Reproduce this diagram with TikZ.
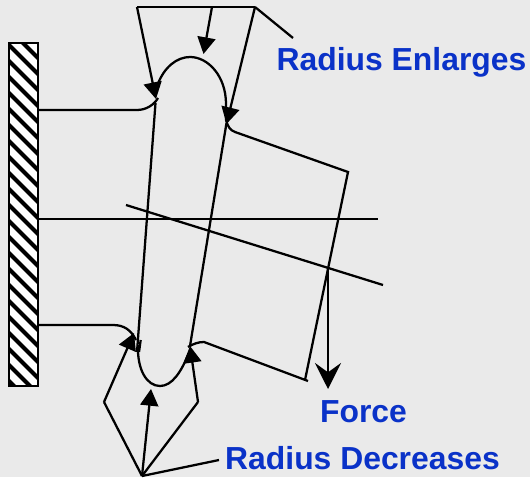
\documentclass[tikz,border=0pt]{standalone}
\usepackage{fontspec}
\setmainfont{Liberation Sans}
\usetikzlibrary{arrows.meta}
\definecolor{bgc}{RGB}{234,234,234}
\definecolor{lab}{RGB}{10,50,200}
\tikzset{
  ln/.style={line width=1.7pt,black},
  arr/.style={ln,-{Triangle[length=12.5pt,width=13.5pt]}},
  bigarr/.style={ln,-{Stealth[length=19.5pt,width=19.5pt,inset=7pt]}},
  lbl/.style={font=\bfseries\fontsize{23.9}{26}\selectfont,text=lab,inner sep=0pt,anchor=center}
}
\begin{document}
\begin{tikzpicture}[x=0.75pt,y=-0.75pt]
\useasboundingbox (0,0) rectangle (530,477);
\fill[bgc] (0,0) rectangle (530,477);
% wall
\fill[white] (9,43) rectangle (38,386);
\begin{scope}
\clip (9,43) rectangle (38,386);
\foreach \k in {-21,...,4}{
  \draw[line width=3pt] (-1,{333+16*\k-10}) -- (49,{333+16*\k+40});
}
\end{scope}
\draw[line width=2pt] (9,43) rectangle (38,386);
% coordinates
\coordinate (tl) at (137,7);
\coordinate (tm) at (212,7);
\coordinate (tr) at (255,7);
\coordinate (tltip) at (156,99);
\coordinate (tmtip) at (203.5,54);
\coordinate (trtip) at (226.5,124);
\coordinate (apex) at (142,476);
\coordinate (bl) at (104,402);
\coordinate (br) at (198,402);
\coordinate (bltip) at (134,333);
\coordinate (bmtip) at (151,389);
\coordinate (brtip) at (190,346);
\coordinate (fa) at (328,267);
\coordinate (fb) at (328,389);
\coordinate (p1) at (348,172);
\coordinate (p2) at (305,380);
\node[lbl] (enl) at (401.5,62.5) {Radius Enlarges};
\node[lbl] (dec) at (362.5,458) {Radius Decreases};
\node[lbl] (force) at (363.5,412) {Force};
% top bracket
\draw[ln] (tl) -- (tr);
\draw[arr] (tl) -- (tltip);
\draw[arr] (tm) -- (tmtip);
\draw[arr] (tr) -- (trtip);
\draw[ln] (tr) -- (293,38);
% body
\draw[ln] (155.5,103) -- (137,352);
\draw[ln] (226.5,123) -- (190,346);
\draw[ln] (157.5,85) .. controls (164,67) and (177,57) .. (190,57)
  .. controls (208,57) and (226,76) .. (226,104) -- (226,120);
\draw[ln] (138,345) .. controls (137,370) and (147,386) .. (160,386)
  .. controls (172,386) and (181,372) .. (188,355);
\draw[ln] (140.7,340) -- (139,352);
% arm ends
\draw[ln] (38,110) -- (137,110) .. controls (146,110) and (154,105) .. (158,98);
\draw[ln] (226,120) .. controls (228,127) and (230,130) .. (235,132) -- (p1) -- (p2);
\draw[ln] (308,381) -- (204,342) .. controls (198,342) and (193,344) .. (188,347);
\draw[ln] (38,325) -- (113,325) .. controls (124,325) and (131,330) .. (136,340);
% bottom
\draw[ln] (apex) -- (bl);
\draw[arr] (bl) -- (bltip);
\draw[arr] (apex) -- (bmtip);
\draw[ln] (apex) -- (br);
\draw[arr] (br) -- (brtip);
\draw[ln] (apex) -- (219,460);
% axes
\draw[ln] (38,219) -- (378,219);
\draw[ln] (126,205) -- (383,285);
\draw[bigarr] (fa) -- (fb);
\end{tikzpicture}
\end{document}
